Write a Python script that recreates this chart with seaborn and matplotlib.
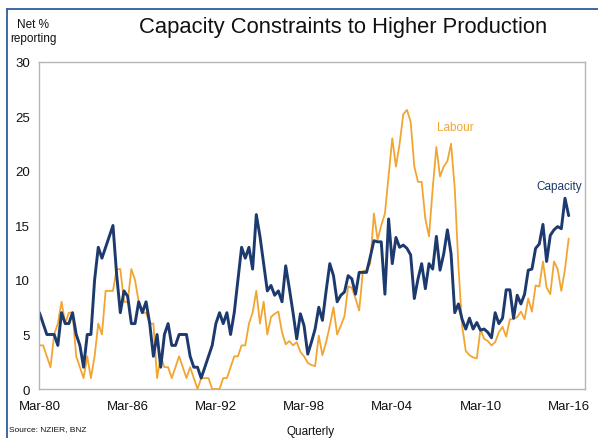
import numpy as np
import pandas as pd
import matplotlib
matplotlib.use("Agg")
import matplotlib.pyplot as plt
import seaborn as sns
from matplotlib.lines import Line2D

# Quarterly data Mar-80 .. Mar-16 (net % reporting)
capacity = [7, 6, 5, 5, 5, 4, 7, 6, 6, 7, 5, 4, 2, 5, 5, 10, 13, 12, 13, 14, 15, 10.5, 7, 9,
            8.5, 6, 6, 8, 7, 8, 6, 3, 5, 2, 5, 6, 4, 4, 5, 5, 5, 3, 2, 2, 1, 2, 3, 4,
            6, 7, 6, 7, 5, 7, 10, 13, 12, 13, 11, 16, 14, 11.5, 9, 9.5, 8.6, 9, 8, 11.3, 9.2, 7, 4.6, 6.9,
            5.8, 3.2, 4.3, 5.5, 7.5, 6.3, 9, 11.5, 10.4, 8, 8.6, 8.9, 10.4, 10.1, 8.7, 10.7, 10.7, 10.7,
            12.1, 13.6, 13.5, 13.5, 8.7, 15.6, 11.5, 13.9, 13, 13.2, 12.9, 12.3, 8.3, 10.1, 11.5, 9.2,
            11.5, 11, 14, 10.9, 12.4, 14.6, 12.4, 7, 7.8, 6.4, 5.5, 6.5, 5.5, 6.1, 5.4, 5.5, 5.2, 4.7,
            7, 6, 6.5, 9.1, 9.1, 6.5, 8.6, 7.8, 8.7, 10.9, 11, 12.9, 13.3, 15.1, 11.7, 14.1, 14.6, 14.9,
            14.7, 17.5, 15.9]
labour = [4, 4, 3, 2, 5, 6, 8, 6, 7, 7, 3, 2, 1, 3, 1, 3, 6, 5, 9, 9, 9, 11, 11, 8,
          8, 11, 10, 8, 7, 7, 6, 6, 1, 3, 2, 2, 1, 2, 3, 2, 1, 2, 1, 0, 1, 1, 1, 0,
          0, 0, 1, 1, 2, 3, 3, 4, 4, 6, 7, 9, 6, 8, 5, 6.6, 6.9, 7.1, 5.2, 4.1, 4.4, 4, 4.3, 3.4,
          3.0, 2.4, 2.2, 2.1, 4.9, 3.1, 4.3, 5.8, 7.5, 5, 5.8, 6.7, 9.4, 9.3, 8.3, 7.2, 10.8, 10.9,
          11.5, 16.1, 13.7, 15, 16.1, 19.5, 23, 20.4, 22.5, 25.2, 25.6, 24.5, 20.4, 19, 19, 15.6,
          14, 18.4, 22.2, 19.5, 20.4, 20.9, 22.5, 18.4, 11.3, 5.8, 3.5, 3.1, 2.9, 2.8, 5.5, 4.6,
          4.4, 4, 4.3, 5.2, 5.7, 4.8, 6.4, 6.4, 6.6, 7.1, 6.4, 8.3, 7.1, 9.5, 9.4, 11.7, 9.3, 8.7,
          11.7, 11, 9, 11, 13.8]
tick_labels = ["Mar-80", "Mar-86", "Mar-92", "Mar-98", "Mar-04", "Mar-10", "Mar-16"]
y_ticks = [0, 5, 10, 15, 20, 25, 30]

n = len(capacity)
df = pd.DataFrame({
    "quarter": np.concatenate([np.arange(n), np.arange(len(labour))]),
    "value": capacity + labour,
    "series": ["Capacity"] * n + ["Labour"] * len(labour),
})

sns.set_style("white")
plt.rcParams["font.family"] = ["Liberation Sans", "DejaVu Sans"]

fig = plt.figure(figsize=(5.98, 4.39), dpi=100)
ax = fig.add_axes([0.066, 0.1116, 0.912, 0.745])

navy = "#1c3a6e"
orange = "#f2a531"
sns.lineplot(data=df[df.series == "Labour"], x="quarter", y="value", color=orange,
             linewidth=1.3, ax=ax, legend=False)
sns.lineplot(data=df[df.series == "Capacity"], x="quarter", y="value", color=navy,
             linewidth=2.1, ax=ax, legend=False)

ax.set_xlim(0, 148.4)
ax.set_ylim(0, 30)
ax.set_xticks(np.arange(0, 145, 24))
ax.set_xticklabels(tick_labels)
ax.set_xticks(np.arange(0, 149, 4), minor=True)
ax.set_yticks(y_ticks)
ax.set_xlabel("")
ax.set_ylabel("")

spine_col = "#b5b5b5"
for s in ax.spines.values():
    s.set_color(spine_col)
    s.set_linewidth(1.0)
ax.tick_params(axis="both", which="both", direction="out", color="#888888",
               labelsize=9.5, labelcolor="#111111")
ax.tick_params(axis="x", which="major", length=4, pad=4)
ax.tick_params(axis="x", which="minor", length=4)
ax.tick_params(axis="y", which="major", length=4, pad=3)

ax.text(113.2, 24.0, "Labour", color=orange, fontsize=8.5, ha="center", va="center")
ax.text(141.5, 18.6, "Capacity", color=navy, fontsize=8.5, ha="center", va="center")

fig.text(343 / 598, 1 - 27 / 439, "Capacity Constraints to Higher Production",
         fontsize=15.8, ha="center", va="center", color="#111111")
fig.text(33 / 598, 1 - 32 / 439, "Net %\nreporting", fontsize=8.5, ha="center",
         va="center", color="#111111", linespacing=1.3)
fig.text(311 / 598, 1 - 432 / 439, "Quarterly", fontsize=8.5, ha="center",
         va="center", color="#111111")
fig.text(9 / 598, 1 - 430 / 439, "Source: NZIER, BNZ", fontsize=6, ha="left",
         va="center", color="#111111")

frame_col = "#2e5c9e"
fig.add_artist(Line2D([7 / 598, 1.0], [1 - 10 / 439, 1 - 10 / 439],
                      transform=fig.transFigure, color=frame_col, linewidth=1.3))
fig.add_artist(Line2D([7 / 598, 7 / 598], [0, 1 - 10 / 439],
                      transform=fig.transFigure, color=frame_col, linewidth=1.3))

fig.savefig("out.png", dpi=100)
